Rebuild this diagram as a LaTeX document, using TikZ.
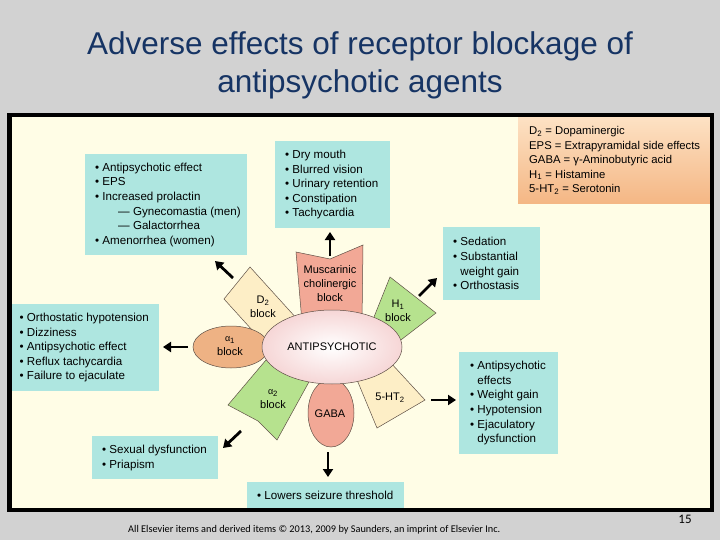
\documentclass[tikz,border=0pt]{standalone}
\usepackage{fontspec}
\setmainfont{Liberation Sans}
\newfontfamily\footfont{Carlito}
\usetikzlibrary{arrows.meta,shapes.geometric}
\definecolor{bggrey}{RGB}{210,210,210}
\definecolor{titlec}{RGB}{22,52,100}
\definecolor{panelc}{RGB}{255,253,230}
\definecolor{boxc}{RGB}{174,230,224}
\definecolor{salmonc}{RGB}{242,168,150}
\definecolor{creamc}{RGB}{253,238,198}
\definecolor{greenc}{RGB}{182,226,142}
\definecolor{orangec}{RGB}{238,178,132}
\definecolor{pinkc}{RGB}{246,214,214}
\definecolor{legtop}{RGB}{253,226,196}
\definecolor{legbot}{RGB}{244,182,132}
\definecolor{edgec}{RGB}{95,80,70}
\newcommand{\bl}{\textbullet\ }
\newcommand{\ind}{\hphantom{\textbullet\ }}
\tikzset{
  box/.style={fill=boxc, inner sep=0pt, anchor=north west},
  btxt/.style={inner sep=0pt, anchor=west, align=left, font=\fontsize{11.6}{14.6}\selectfont},
  petal/.style={draw=edgec, line width=0.5pt},
  ptxt/.style={align=center, font=\fontsize{11}{14}\selectfont, inner sep=0pt},
  arr/.style={line width=2.8pt, -{Triangle[length=8pt,width=10pt]}},
  titletxt/.style={font=\fontsize{31.5}{34}\selectfont, text=titlec, inner sep=0pt}
}
\begin{document}
\begin{tikzpicture}[x=1pt,y=-1pt]
\useasboundingbox (0,0) rectangle (720,540);
\fill[bggrey] (0,0) rectangle (720,540);
% title
\node[titletxt] (t1) at (360,46) {Adverse effects of receptor blockage of};
\node[titletxt] (t2) at (360,84) {antipsychotic agents};
% panel
\fill[panelc] (9.5,115) rectangle (712,510);
% boxes
\node[box, minimum width=162pt, minimum height=101pt] (tl) at (85,154) {};
\node[btxt] (tlt) at ([xshift=10pt]tl.west)
 {\bl Antipsychotic effect\\ \bl EPS\\ \bl Increased prolactin\\
  \hspace{23pt}--- Gynecomastia (men)\\ \hspace{23pt}--- Galactorrhea\\ \bl Amenorrhea (women)};
\node[box, minimum width=115pt, minimum height=87pt] (tc) at (275,141) {};
\node[btxt] (tct) at ([xshift=10pt]tc.west)
 {\bl Dry mouth\\ \bl Blurred vision\\ \bl Urinary retention\\ \bl Constipation\\ \bl Tachycardia};
\shade[top color=legtop, bottom color=legbot] (518,117) rectangle (710,204);
\coordinate (leg) at (518,160.5);
\node[btxt, font=\fontsize{11.3}{14.6}\selectfont] (legt) at ([xshift=11pt]leg)
 {D\textsubscript{2} = Dopaminergic\\ EPS = Extrapyramidal side effects\\ GABA = γ-Aminobutyric acid\\
  H\textsubscript{1} = Histamine\\ 5-HT\textsubscript{2} = Serotonin};
\node[box, minimum width=97pt, minimum height=73pt] (sed) at (443,227) {};
\node[btxt] (sedt) at ([xshift=10pt]sed.west)
 {\bl Sedation\\ \bl Substantial\\ \ind weight gain\\ \bl Orthostasis};
\node[box, minimum width=147.5pt, minimum height=87pt] (lb) at (11.5,304) {};
\node[btxt] (lbt) at ([xshift=8pt]lb.west)
 {\bl Orthostatic hypotension\\ \bl Dizziness\\ \bl Antipsychotic effect\\ \bl Reflux tachycardia\\ \bl Failure to ejaculate};
\node[box, minimum width=99pt, minimum height=102pt] (rb) at (459,352) {};
\node[btxt] (rbt) at ([xshift=11pt]rb.west)
 {\bl Antipsychotic\\ \ind effects\\ \bl Weight gain\\ \bl Hypotension\\ \bl Ejaculatory\\ \ind dysfunction};
\node[box, minimum width=126pt, minimum height=43pt] (sx) at (92,436) {};
\node[btxt] (sxt) at ([xshift=10pt]sx.west)
 {\bl Sexual dysfunction\\ \bl Priapism};
\node[box, minimum width=157pt, minimum height=26pt] (lw) at (247,482) {};
\node[btxt] (lwt) at ([xshift=10pt]lw.west)
 {\bl Lowers seizure threshold};
% border
\draw[line width=4.5pt] (9.5,115) rectangle (712,510);
% petals
\filldraw[petal, fill=salmonc] (296,252) -- (330,259) -- (363,245) -- (362,322) -- (302,322) -- cycle;
\filldraw[petal, fill=creamc] (250,267) -- (298,320) -- (272,352) -- (224,299) -- cycle;
\filldraw[petal, fill=greenc] (390,277) -- (436,313) -- (393,346) -- (368,332) -- cycle;
\filldraw[petal, fill=orangec] (231,347) ellipse [x radius=38, y radius=21];
\filldraw[petal, fill=greenc] (266,360) -- (310,380) -- (277,440) -- (258,421) -- (228,405) -- cycle;
\filldraw[petal, fill=salmonc] (331,413) ellipse [x radius=23, y radius=34];
\filldraw[petal, fill=creamc] (355,375) -- (390,362) -- (425,400) -- (377,428) -- cycle;
% centre
\shade[inner color=white, outer color=pinkc] (332,347) ellipse [x radius=70, y radius=37];
\draw[petal] (332,347) ellipse [x radius=70, y radius=37];
\node[ptxt] (ctr) at (332,347) {ANTIPSYCHOTIC};
\node[ptxt] (musc) at (330,284) {Muscarinic\\cholinergic\\block};
\node[ptxt] (d2) at (263,307) {D\textsubscript{2}\\block};
\node[ptxt] (h1) at (398,311) {H\textsubscript{1}\\block};
\node[ptxt] (a1) at (230,346) {{\fontsize{9}{10}\selectfont α}\textsubscript{1}\\block};
\node[ptxt] (a2) at (273,399) {{\fontsize{9}{10}\selectfont α}\textsubscript{2}\\block};
\node[ptxt] (gaba) at (330,414) {GABA};
\node[ptxt] (ht) at (390,398) {5-HT\textsubscript{2}};
% arrows
\coordinate (mu0) at (330,256); \coordinate (mu1) at (330,232);
\coordinate (dd0) at (233,278); \coordinate (dd1) at (215,261);
\coordinate (hh0) at (419,296); \coordinate (hh1) at (437,278);
\coordinate (aa0) at (188,347); \coordinate (aa1) at (163,347);
\coordinate (bb0) at (241,431); \coordinate (bb1) at (223,448);
\coordinate (gg0) at (328,452); \coordinate (gg1) at (328,477);
\coordinate (ss0) at (431,400); \coordinate (ss1) at (456,400);
\draw[arr] (mu0) -- (mu1);
\draw[arr] (dd0) -- (dd1);
\draw[arr] (hh0) -- (hh1);
\draw[arr] (aa0) -- (aa1);
\draw[arr] (bb0) -- (bb1);
\draw[arr] (gg0) -- (gg1);
\draw[arr] (ss0) -- (ss1);
% footer
\node[anchor=west, inner sep=0pt, font=\footfont\fontsize{10.3}{12}\selectfont] (foot) at (128,530)
 {All Elsevier items and derived items © 2013, 2009 by Saunders, an imprint of Elsevier Inc.};
\node[inner sep=0pt, font=\footfont\fontsize{13}{14}\selectfont] (pg) at (685,519) {15};
\end{tikzpicture}
\end{document}
